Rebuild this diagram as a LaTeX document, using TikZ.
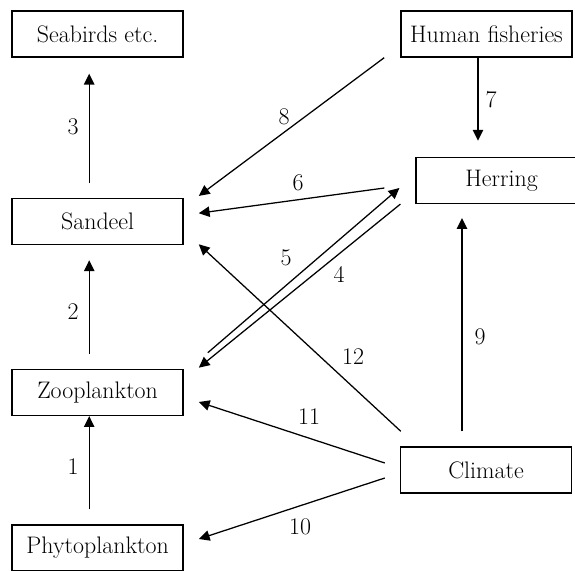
\documentclass[tikz,border=0pt]{standalone}
\usetikzlibrary{calc}
\usetikzlibrary{arrows.meta}

\begin{document}
\begin{tikzpicture}[scale=1, box/.style={draw, line width=1pt, minimum width=4.275cm, minimum height=1.15cm, inner sep=0pt},
    link/.style={line width=0.9pt, -{Triangle[length=2.7mm, width=2.6mm]}},
    every node/.style={font=\fontsize{17}{20}\selectfont}]
    \useasboundingbox (0, 0) rectangle (14.375, 14.25);

    % left column
    \node [box] (seabirds) at (2.44, 13.4) {Seabirds etc.};
    \node [box] (sandeel) at (2.44, 8.71) {Sandeel};
    \node [box] (zoo) at (2.44, 4.44) {Zooplankton};
    \node [box] (phyto) at (2.44, 0.55) {Phytoplankton};

    % right column
    \node [box] (fisheries) at (12.16, 13.4) {Human fisheries};
    \node [box] (herring) at (12.54, 9.74) {Herring};
    \node [box] (climate) at (12.15, 2.5) {Climate};

    % vertical links
    \draw[link, shorten <=0.375cm] ([xshift=-0.21cm]phyto.north) -- ([xshift=-0.21cm]zoo.south);
    \node [] at (1.825, 2.575) {1};
    \draw[link, shorten <=0.375cm, shorten >=0.375cm] ([xshift=-0.21cm]zoo.north) -- ([xshift=-0.21cm]sandeel.south);
    \node [] at (1.825, 6.45) {2};
    \draw[link, shorten <=0.375cm, shorten >=0.4cm] ([xshift=-0.21cm]sandeel.north) -- ([xshift=-0.21cm]seabirds.south);
    \node [] at (1.825, 11.075) {3};
    \draw[link, shorten >=0.4cm] ([xshift=-0.21cm]fisheries.south) -- ([xshift=-0.21cm]fisheries.south |- herring.north);
    \node [] at (12.275, 11.75) {7};
    \draw[link, shorten <=0.375cm, shorten >=0.35cm] ([xshift=-0.6cm]climate.north) -- ([xshift=-0.6cm]climate.north |- herring.south);
    \node [] at (12.0, 5.825) {9};

    % cross links
    \draw[link] ($(herring.south west)+(-0.375, 0)$) -- ($(zoo.north east)+(0.375, 0.025)$);
    \node [] at (8.475, 7.375) {4};
    \draw[link] ($(zoo.north east)+(0.6, 0.4)$) -- ($(herring.west)+(-0.4, -0.19)$);
    \node [] at (7.15, 7.8) {5};
    \draw[link] ($(herring.west)+(-0.775, -0.19)$) -- ($(sandeel.east)+(0.375, 0.21)$);
    \node [] at (7.45, 9.675) {6};
    \draw[link] ($(fisheries.south west)+(-0.4, 0)$) -- ($(sandeel.north east)+(0.375, 0.05)$);
    \node [] at (7.1, 11.325) {8};
    \draw[link] ($(climate.west)+(-0.375, -0.2)$) -- ($(phyto.east)+(0.375, 0.225)$);
    \node [] at (7.5, 1.075) {10};
    \draw[link] ($(climate.west)+(-0.375, 0.175)$) -- ($(zoo.east)+(0.375, -0.24)$);
    \node [] at (7.725, 3.825) {11};
    \draw[link] ($(climate.north west)+(0.025, 0.375)$) -- ($(sandeel.south east)+(0.375, 0.025)$);
    \node [] at (8.825, 5.325) {12};
\end{tikzpicture}
\end{document}
